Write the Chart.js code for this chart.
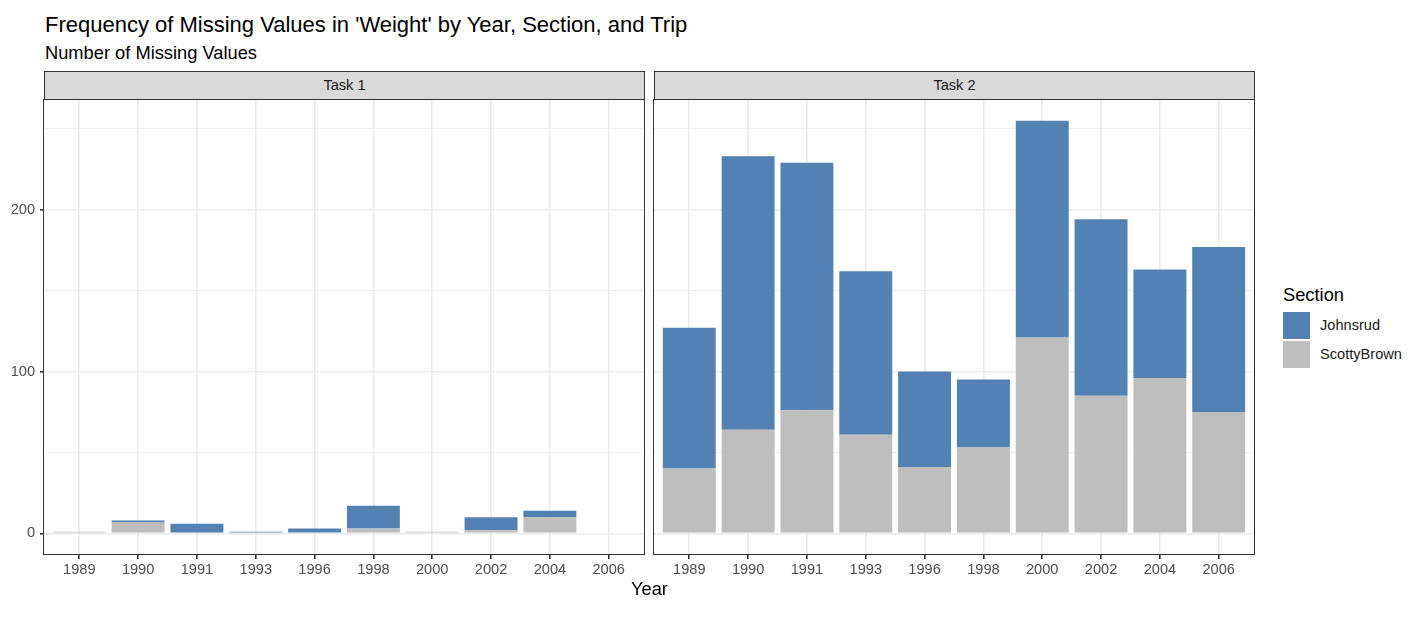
<!DOCTYPE html>
<html>
<head>
<meta charset="utf-8">
<script src="https://cdn.jsdelivr.net/npm/chart.js@4/dist/chart.umd.min.js"></script>
<style>
  body { margin: 0; background: #fff; font-family: "Liberation Sans", Arial, sans-serif; }
  #wrap { position: relative; width: 1427px; height: 631px; overflow: hidden; }
  .txt { position: absolute; white-space: nowrap; color: #000; line-height: 1.15; }
  .strip { position: absolute; top: 71px; height: 27px; width: 599px; background: #d9d9d9;
           border: 1px solid #333; text-align: center; line-height: 27px; font-size: 14.6px; color: #1a1a1a; }
  .key { position: absolute; left: 1283px; width: 27px; height: 27px; }
  canvas { position: absolute; }
</style>
</head>
<body>
<div id="wrap">
  <div class="txt" style="left:45px; top:12px; font-size:22px;">Frequency of Missing Values in 'Weight' by Year, Section, and Trip</div>
  <div class="txt" style="left:45px; top:42px; font-size:18.3px;">Number of Missing Values</div>
  <div id="c1box" style="position:absolute; left:0; top:84px; width:648px; height:496px;"><canvas id="task1"></canvas></div>
  <div id="c2box" style="position:absolute; left:650px; top:84px; width:608px; height:496px;"><canvas id="task2"></canvas></div>
  <div class="strip" style="left:44px;">Task 1</div>
  <div class="strip" style="left:654px;">Task 2</div>
  <div class="txt" style="left:631px; top:578px; font-size:18.3px;">Year</div>
  <div class="txt" style="left:1283px; top:284px; font-size:18.3px;">Section</div>
  <div class="key" style="top:312px; background:#5381b2;"></div>
  <div class="key" style="top:341px; background:#bebebe;"></div>
  <div class="txt" style="left:1320px; top:317px; font-size:14.6px; color:#1a1a1a;">Johnsrud</div>
  <div class="txt" style="left:1320px; top:346px; font-size:14.6px; color:#1a1a1a;">ScottyBrown</div>
</div>
<script>
// data
const years = ['1989', '1990', '1991', '1993', '1996', '1998', '2000', '2002', '2004', '2006'];
const task1Scotty = [1, 7, 0, 0, 0, 3, 1, 2, 10, 0];
const task1Johnsrud = [0, 1, 6, 1, 3, 14, 0, 8, 4, 0];
const task2Scotty = [40, 64, 76, 61, 41, 53, 121, 85, 96, 75];
const task2Johnsrud = [87, 169, 153, 101, 59, 42, 134, 109, 67, 102];
const yTicks = [0, 50, 100, 150, 200, 250];

const blue = '#5381b2';
const grey = '#bebebe';

function pts(arr) {
  return arr.map((v, i) => ({ x: i + 1, y: v }));
}

// draws the dark panel border around the plot area
const panelBorder = {
  id: 'panelBorder',
  afterDraw(chart) {
    const a = chart.chartArea;
    const ctx = chart.ctx;
    ctx.save();
    ctx.strokeStyle = '#333333';
    ctx.lineWidth = 1;
    ctx.strokeRect(Math.round(a.left) - 0.5, Math.round(a.top) - 0.5,
      Math.round(a.right - a.left) + 1, Math.round(a.bottom - a.top) + 1);
    ctx.restore();
  }
};

function makeChart(id, scotty, johnsrud, showY) {
  const ctx = document.getElementById(id).getContext('2d');
  return new Chart(ctx, {
    type: 'bar',
    data: {
      datasets: [
        { label: 'ScottyBrown', data: pts(scotty), backgroundColor: grey, barPercentage: 0.9, categoryPercentage: 1 },
        { label: 'Johnsrud', data: pts(johnsrud), backgroundColor: blue, barPercentage: 0.9, categoryPercentage: 1 }
      ]
    },
    options: {
      responsive: true,
      maintainAspectRatio: false,
      animation: false,
      // top padding large enough that the y tick labels never push the plot down
      layout: { padding: { top: 16, right: 4, left: 0, bottom: 0 } },
      plugins: { legend: { display: false }, tooltip: { enabled: false } },
      scales: {
        x: {
          type: 'linear',
          stacked: true,
          offset: false,
          min: 0.4,
          max: 10.6,
          afterBuildTicks: (s) => { s.ticks = years.map((_, i) => ({ value: i + 1 })); },
          afterFit: (s) => { s.height = 26; },
          border: { display: false },
          grid: { offset: false, color: '#ebebeb', lineWidth: 1.6, tickColor: '#333333', tickLength: 5 },
          ticks: {
            autoSkip: false,
            maxRotation: 0,
            padding: 2,
            color: '#4d4d4d',
            font: { family: 'Liberation Sans', size: 14.6 },
            callback: (v) => years[v - 1]
          }
        },
        y: {
          stacked: true,
          min: -12.75,
          max: 267.75,
          afterBuildTicks: (s) => { s.ticks = yTicks.map(v => ({ value: v })); },
          afterFit: (s) => { s.width = showY ? 44 : 4; },
          border: { display: false },
          grid: {
            color: '#ebebeb',
            lineWidth: (c) => (c.tick && c.tick.value % 100 === 0) ? 1.6 : 0.8,
            tickColor: (c) => (showY && c.tick && c.tick.value % 100 === 0) ? '#333333' : 'rgba(0,0,0,0)',
            tickLength: 4
          },
          ticks: {
            display: showY,
            padding: 5,
            color: '#4d4d4d',
            font: { family: 'Liberation Sans', size: 14.6 },
            callback: (v) => (v % 100 === 0 ? String(v) : '')
          }
        }
      }
    },
    plugins: [panelBorder]
  });
}

makeChart('task1', task1Scotty, task1Johnsrud, true);
makeChart('task2', task2Scotty, task2Johnsrud, false);
</script>
</body>
</html>
